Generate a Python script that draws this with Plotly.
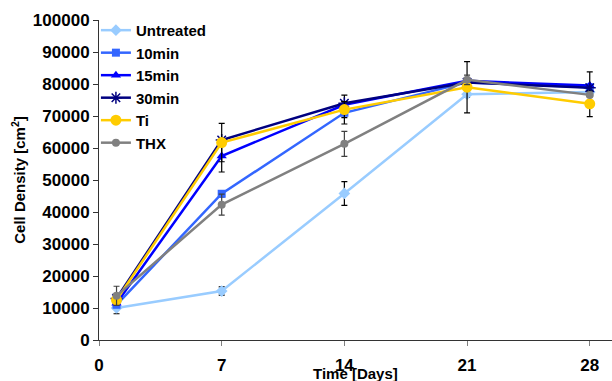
import plotly.graph_objects as go

days = [1, 7, 14, 21, 28]
series_names = ["Untreated", "10min", "15min", "30min", "Ti", "THX"]

untreated = [10000, 15300, 45800, 76800, 77500]
min10 = [11000, 45700, 71000, 80500, 79000]
min15 = [11500, 57500, 73500, 81000, 79500]
min30 = [13000, 62500, 74000, 80500, 78800]
ti = [12500, 61700, 72000, 79000, 73800]
thx = [13800, 42300, 61300, 81300, 76600]

err_untreated = [1800, 1300, 3700, 1000, 0]
err_10min = [0, 1000, 3500, 0, 0]
err_15min = [0, 5000, 0, 0, 0]
err_30min = [0, 0, 2500, 0, 5000]
err_ti = [0, 6000, 2500, 8000, 4000]
err_thx = [3000, 3300, 3900, 1500, 0]

x_ticks = [0, 7, 14, 21, 28]
y_ticks = list(range(0, 100001, 10000))

values = [untreated, min10, min15, min30, ti, thx]
errors = [err_untreated, err_10min, err_15min, err_30min, err_ti, err_thx]
colors = ["#99CCFF", "#3366FF", "#0000FF", "#000080", "#FFCC00", "#808080"]
symbols = ["diamond", "square", "triangle-up", "asterisk-open", "circle", "circle"]
sizes = [9, 8, 9, 10, 11, 8]
err_colors = ["#000000", "#000000", "#000000", "#000000", "#000000", "#404040"]

FONT = "Arial, Liberation Sans, sans-serif"

fig = go.Figure()
for name, v, e, c, s, sz, ec in zip(series_names, values, errors, colors, symbols, sizes, err_colors):
    marker = dict(color=c, symbol=s, size=sz)
    if s == "asterisk-open":
        marker["line"] = dict(color=c, width=1.5)
    fig.add_trace(go.Scatter(
        x=days, y=v, name=name, mode="lines+markers",
        line=dict(color=c, width=2.5),
        marker=marker,
        error_y=dict(type="data", array=e, visible=True, color=ec, thickness=1.2, width=3),
    ))

fig.update_layout(
    width=612, height=381,
    margin=dict(l=99, r=0, t=20, b=41),
    paper_bgcolor="white", plot_bgcolor="white",
    font=dict(family=FONT, size=17, color="black", weight="bold"),
    showlegend=True,
    legend=dict(
        x=-0.006, y=1.019, xanchor="left", yanchor="top",
        bgcolor="rgba(0,0,0,0)",
        font=dict(family=FONT, size=15, color="black", weight="bold"),
        tracegroupgap=0, itemwidth=30,
    ),
    xaxis=dict(
        range=[0, 29.27], tickmode="array", tickvals=x_ticks, ticktext=[str(t) for t in x_ticks],
        showline=True, linecolor="#333333", linewidth=1,
        ticks="outside", ticklen=5, tickcolor="#808080",
        ticklabelstandoff=5,
        showgrid=False, zeroline=False,
        tickfont=dict(family=FONT, size=17, color="black", weight="bold"),
        automargin=False,
    ),
    yaxis=dict(
        range=[0, 100000], tickmode="array", tickvals=y_ticks, ticktext=[str(t) for t in y_ticks],
        showline=True, linecolor="#333333", linewidth=1,
        ticks="outside", ticklen=5, tickcolor="#333333",
        showgrid=False, zeroline=False,
        tickfont=dict(family=FONT, size=17, color="black", weight="bold"),
        title=dict(text="Cell Density [cm<sup>2</sup>]", standoff=3,
                   font=dict(family=FONT, size=15, color="black", weight="bold")),
        automargin=False,
    ),
    annotations=[dict(
        text="Time [Days]", xref="paper", yref="paper", x=0.5, y=-0.105,
        xanchor="center", yanchor="middle", showarrow=False,
        font=dict(family=FONT, size=15, color="black", weight="bold"),
    )],
)

fig.write_html("out.html")
